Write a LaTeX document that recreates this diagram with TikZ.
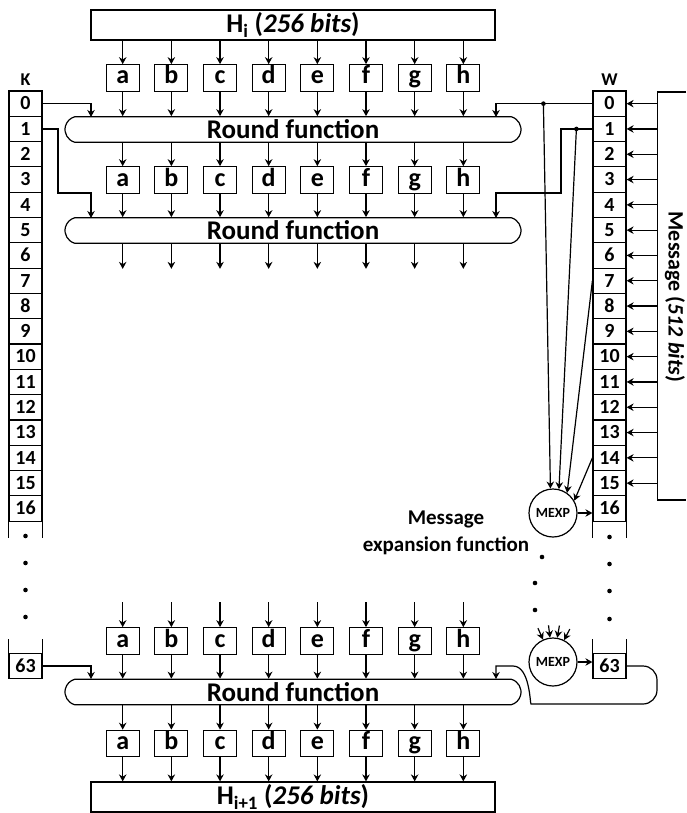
\documentclass[tikz,border=0pt]{standalone}
\usepackage{fontspec}
\setmainfont{Carlito}
\usepackage{tikz}
\usetikzlibrary{positioning,calc,arrows.meta,shapes.misc}

\begin{document}
\begin{tikzpicture}[x=1pt, y=-1pt, line width=1.2pt, >={Stealth[length=7pt,width=7.5pt]},
 reg/.style = {draw, minimum width=33pt, minimum height=26.5pt, inner sep=0pt, text height=18pt, text depth=6pt, font=\fontsize{26}{26}\selectfont\bfseries},
 cell/.style = {draw, minimum width=33pt, minimum height=25.3pt, inner sep=0pt, text height=12.5pt, text depth=0pt, font=\fontsize{20}{20}\selectfont\bfseries},
 rfn/.style = {draw, rounded rectangle, rounded rectangle arc length=150, minimum width=456pt, minimum height=25.5pt, inner sep=0pt, font=\fontsize{27}{27}\selectfont\bfseries},
 hbox/.style = {draw, minimum width=404pt, minimum height=30pt, inner sep=0pt, font=\fontsize{27}{27}\selectfont\bfseries},
 mexp/.style = {draw, circle, minimum size=48pt, inner sep=0pt, font=\fontsize{14}{14}\selectfont\bfseries},
 lbl/.style = {font=\fontsize{18}{18}\selectfont\bfseries}]

\useasboundingbox (0,0) rectangle (686,813);

% state words and round functions
\node[hbox] (hi) at (293,25) {H\textsubscript{i} (\textit{256 bits})};
\node[hbox] (ho) at (293,797) {H\textsubscript{i+1} (\textit{256 bits})};
\node[rfn] (rf1) at (293,129.5) {Round function};
\node[rfn] (rf2) at (293,230.5) {Round function};
\node[rfn] (rf3) at (293,692) {Round function};

\foreach \l [count=\i from 0] in {a,b,c,d,e,f,g,h} {
  \node[reg] (\l1) at ({122.7+48.66*\i},78) {\l};
  \node[reg] (\l2) at ({122.7+48.66*\i},180) {\l};
  \node[reg] (\l3) at ({122.7+48.66*\i},641) {\l};
  \node[reg] (\l4) at ({122.7+48.66*\i},743.5) {\l};
  \draw[->] (\l1 |- hi.south) -- (\l1);
  \draw[->] (\l1) -- (\l1 |- rf1.north);
  \draw[->] (\l2 |- rf1.south) -- (\l2);
  \draw[->] (\l2) -- (\l2 |- rf2.north);
  \draw[->] (\l2 |- rf2.south) -- ++(0,25);
  \draw[->] (\l3.north) ++(0,-25) -- (\l3);
  \draw[->] (\l3) -- (\l3 |- rf3.north);
  \draw[->] (\l4 |- rf3.south) -- (\l4);
  \draw[->] (\l4) -- (\l4 |- ho.north);
}

% K and W tables
\foreach \k in {0,...,16} {
  \node[cell] (k\k) at (25.5,{103.65+25.3*\k}) {\k};
  \node[cell] (w\k) at (609.5,{103.65+25.3*\k}) {\k};
}
\node[cell] (k63) at (25.5,666) {63};
\node[cell] (w63) at (609.5,666) {63};
\node[lbl, above=1pt of k0] (klbl) {K};
\node[lbl, above=1pt of w0] (wlbl) {W};

\draw (k16.south west) -- ++(0,16) (k16.south east) -- ++(0,16);
\draw (w16.south west) -- ++(0,16) (w16.south east) -- ++(0,16);
\draw (k63.north west) -- ++(0,-14) (k63.north east) -- ++(0,-14);
\draw (w63.north west) -- ++(0,-14) (w63.north east) -- ++(0,-14);
\foreach \y in {536,563,590,617} \fill (25.5,\y) circle (2.3pt);
\foreach \y in {537,564,591,619} \fill (609.5,\y) circle (2.3pt);
\foreach \p in {(542,557),(535,583),(535,610)} \fill \p circle (2.3pt);

% K inputs
\coordinate (kin0) at (91,117);
\coordinate (kin1) at (91,218);
\coordinate (kin3) at (91,679);
\draw[->] (k0.east) -| (kin0);
\draw[->] (k1.east) -| (58,193) -| (kin1);
\draw[->] (k63.east) -| (kin3);

% W inputs
\coordinate (win0) at (496,117);
\coordinate (win1) at (496,218);
\coordinate (win3) at (496,679);
\draw[->] (w0.west) -| (win0);
\draw[->] (w1.west) -| (561,193) -| (win1);
\path (w0.west) -- ++(-49,0) coordinate (j0);
\path (w1.west) -- ++(-16,0) coordinate (j1);
\fill (j0) circle (2.3pt) (j1) circle (2.3pt);

% message expansion
\node[mexp] (mx1) at (553,513) {MEXP};
\node[mexp] (mx2) at (553,662) {MEXP};
\node[font=\fontsize{21}{27}\selectfont\bfseries, align=center] (mxlbl) at (446,533) {Message\\expansion function};
\draw[->] (j0) -- (mx1.96);
\draw[->] (j1) -- (mx1.76);
\draw[->] (w7.west) -- (mx1.55);
\draw[->] (w14.west) -- (mx1.30);
\draw[->] (mx1.east) -- (mx1.east -| w16.west);
\foreach \a in {114,97,80,63} \draw[->] ($(mx2)+(-\a:37)$) -- (mx2.\a);
\draw[->] (mx2.east) -- (mx2.east -| w63.west);
\draw[->, rounded corners=14pt] (w63.east) -| (657,704) -- (545,704) [sharp corners] .. controls (530,704) and (530,666) .. (513,666) -| (win3);

% message bus
\draw (686,92) -- (657.5,92) -- (657.5,500) -- (686,500);
\foreach \k in {0,...,15} \draw[->] (w\k.east) ++(31.5,0) -- (w\k.east);
\node[font=\fontsize{22}{22}\selectfont\bfseries, rotate=-90] (msg) at (675,297) {Message (\textit{512 bits})};
\end{tikzpicture}
\end{document}
